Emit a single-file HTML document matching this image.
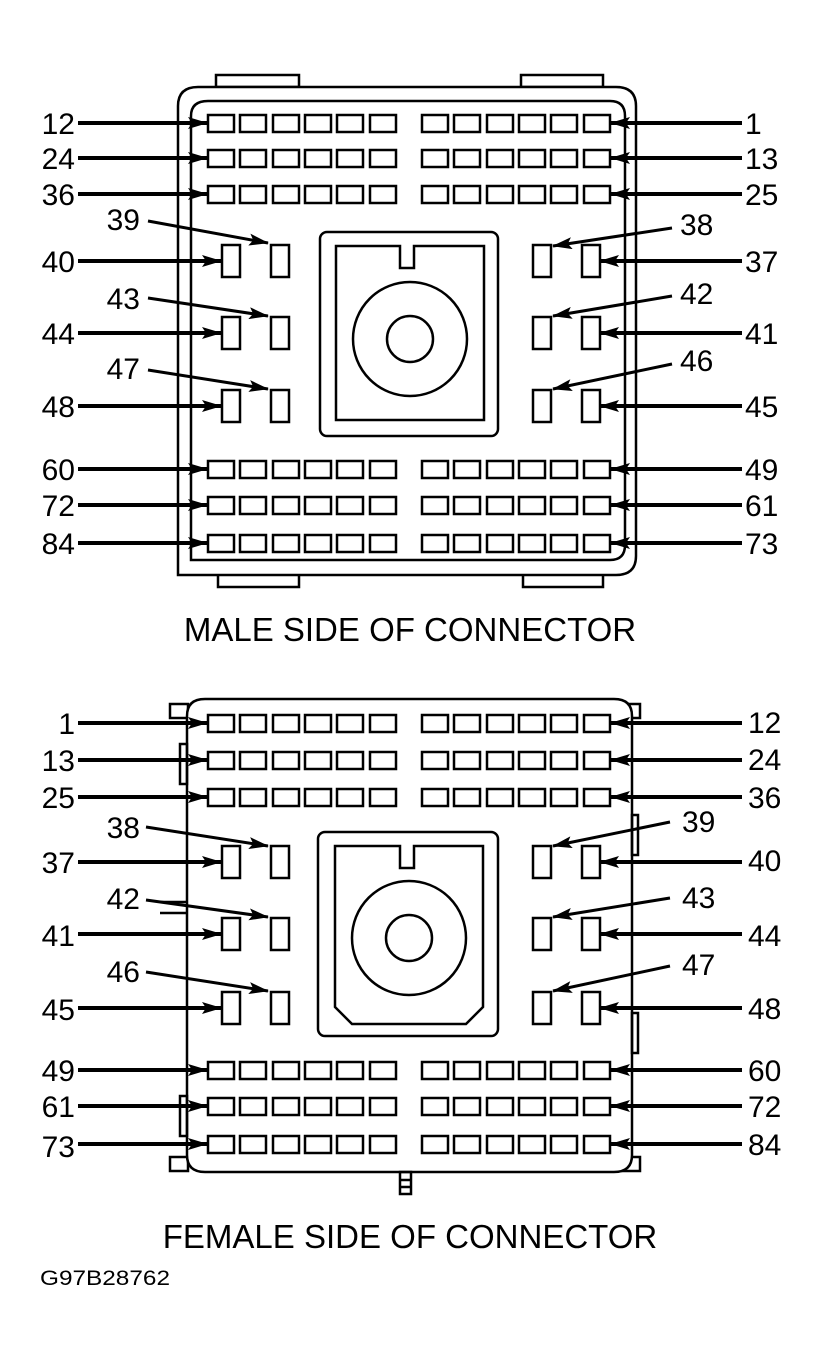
<!DOCTYPE html>
<html><head><meta charset="utf-8"><style>
html,body{margin:0;padding:0;background:#fff;}
svg{display:block;}
text{font-family:"Liberation Sans",Arial,sans-serif;fill:#000;}
.n{font-size:30px;}
</style></head><body>
<svg id="s" width="821" height="1360" viewBox="0 0 821 1360" xmlns="http://www.w3.org/2000/svg">
<defs>
<marker id="ah" viewBox="0 0 20 12" refX="19" refY="6" markerWidth="20" markerHeight="12" markerUnits="userSpaceOnUse" orient="auto"><path d="M0,0 L20,6 L0,12 L4,6 Z" fill="#000"/></marker>
</defs>
<g id="geo" fill="none" stroke="#000" stroke-width="2.5">
<rect x="216" y="75" width="83" height="12" fill="#fff"/>
<rect x="521" y="75" width="82" height="12" fill="#fff"/>
<rect x="218" y="574" width="81" height="13" fill="#fff"/>
<rect x="523" y="574" width="80" height="13" fill="#fff"/>
<path d="M178,575 L178,106 Q178,87 198,87 L616,87 Q636,87 636,106 L636,556 Q636,575 616,575 Z" fill="#fff"/>
<path d="M191,560 L191,116 Q191,101 208,101 L610,101 Q625,101 625,116 L625,545 Q625,560 610,560 Z"/>
<rect x="320" y="232" width="178" height="204" rx="7"/>
<path d="M336,246 L400,246 L400,268 L414,268 L414,246 L484,246 L484,420 L336,420 Z"/>
<circle cx="410" cy="339" r="57"/>
<circle cx="410" cy="339" r="23"/>
<rect x="170" y="704" width="18" height="14" fill="#fff"/>
<rect x="622" y="704" width="18" height="14" fill="#fff"/>
<rect x="170" y="1157" width="18" height="14" fill="#fff"/>
<rect x="622" y="1157" width="18" height="14" fill="#fff"/>
<path d="M187,1155 L187,716 Q187,699 205,699 L614,699 Q632,699 632,716 L632,1155 Q632,1172 614,1172 L205,1172 Q187,1172 187,1155 Z" fill="#fff"/>
<rect x="180" y="744" width="7" height="40"/>
<rect x="632" y="815" width="6" height="40"/>
<rect x="632" y="1013" width="6" height="40"/>
<rect x="180" y="1096" width="7" height="40"/>
<path d="M160,902 L187,902 M160,913 L187,913"/>
<rect x="400" y="1172" width="11" height="22"/>
<path d="M400,1180 L411,1180 M400,1187 L411,1187"/>
<rect x="318" y="832" width="180" height="204" rx="7"/>
<path d="M335,846 L400,846 L400,868 L414,868 L414,846 L483,846 L483,1007 L466,1024 L352,1024 L335,1007 Z"/>
<circle cx="409" cy="938" r="57"/>
<circle cx="409" cy="938" r="23"/>
</g>
<g id="pins" fill="#fff" stroke="#000" stroke-width="2.5"></g>
<g id="arr" stroke="#000" stroke-width="4" fill="none"></g>
<g class="n">
<text x="75" y="134" text-anchor="end">12</text>
<text x="75" y="169" text-anchor="end">24</text>
<text x="75" y="205" text-anchor="end">36</text>
<text x="75" y="272" text-anchor="end">40</text>
<text x="75" y="344" text-anchor="end">44</text>
<text x="75" y="417" text-anchor="end">48</text>
<text x="75" y="480" text-anchor="end">60</text>
<text x="75" y="516" text-anchor="end">72</text>
<text x="75" y="554" text-anchor="end">84</text>
<text x="140" y="230" text-anchor="end">39</text>
<text x="140" y="309" text-anchor="end">43</text>
<text x="140" y="379" text-anchor="end">47</text>
<text x="745" y="134">1</text>
<text x="745" y="169">13</text>
<text x="745" y="205">25</text>
<text x="745" y="272">37</text>
<text x="745" y="344">41</text>
<text x="745" y="417">45</text>
<text x="745" y="480">49</text>
<text x="745" y="516">61</text>
<text x="745" y="554">73</text>
<text x="680" y="235">38</text>
<text x="680" y="304">42</text>
<text x="680" y="371">46</text>
<text x="75" y="734" text-anchor="end">1</text>
<text x="75" y="771" text-anchor="end">13</text>
<text x="75" y="808" text-anchor="end">25</text>
<text x="75" y="873" text-anchor="end">37</text>
<text x="75" y="946" text-anchor="end">41</text>
<text x="75" y="1020" text-anchor="end">45</text>
<text x="75" y="1081" text-anchor="end">49</text>
<text x="75" y="1117" text-anchor="end">61</text>
<text x="75" y="1157" text-anchor="end">73</text>
<text x="140" y="838" text-anchor="end">38</text>
<text x="140" y="909" text-anchor="end">42</text>
<text x="140" y="982" text-anchor="end">46</text>
<text x="748" y="733">12</text>
<text x="748" y="770">24</text>
<text x="748" y="808">36</text>
<text x="748" y="871">40</text>
<text x="748" y="946">44</text>
<text x="748" y="1019">48</text>
<text x="748" y="1081">60</text>
<text x="748" y="1117">72</text>
<text x="748" y="1155">84</text>
<text x="682" y="832">39</text>
<text x="682" y="908">43</text>
<text x="682" y="975">47</text>
</g>
<text x="410" y="641" text-anchor="middle" font-size="33">MALE SIDE OF CONNECTOR</text>
<text x="410" y="1248" text-anchor="middle" font-size="33">FEMALE SIDE OF CONNECTOR</text>
<text x="40" y="1285" font-size="21" textLength="130" lengthAdjust="spacingAndGlyphs">G97B28762</text>
</svg>
<script>
(function(){
var NS="http://www.w3.org/2000/svg";
var P=document.getElementById('pins'),A=document.getElementById('arr');
function r(x,y,w,h){var e=document.createElementNS(NS,'rect');e.setAttribute('x',x);e.setAttribute('y',y);e.setAttribute('width',w);e.setAttribute('height',h);P.appendChild(e);}
function l(x1,y1,x2,y2){var e=document.createElementNS(NS,'line');e.setAttribute('x1',x1);e.setAttribute('y1',y1);e.setAttribute('x2',x2);e.setAttribute('y2',y2);e.setAttribute('marker-end','url(#ah)');e.setAttribute('stroke-width',x1==x2||y1==y2?4:3);A.appendChild(e);}
var LX=[208,240,273,305,337,370],RX=[422,454,487,519,551,584];
function rows(ys){ys.forEach(function(c){LX.concat(RX).forEach(function(x){r(x,c-8,26,17);});l(78,c,207,c);l(742,c,611,c);});}
function verts(ys){ys.forEach(function(c){r(222,c-16,18,32);r(271,c-16,18,32);r(533,c-16,18,32);r(582,c-16,18,32);l(78,c,221,c);l(742,c,600,c);});}
rows([123,158,194,469,505,543]);
verts([261,333,406]);
l(148,221,268,243);l(148,298,268,316);l(148,370,268,389);
l(672,228,553,246);l(672,296,553,316);l(672,364,553,389);
rows([723,760,797,1070,1106,1144]);
verts([862,934,1008]);
l(146,827,268,846);l(146,900,268,917);l(146,972,268,991);
l(670,822,553,846);l(670,898,553,917);l(670,966,553,991);
})();
</script>
</body></html>
